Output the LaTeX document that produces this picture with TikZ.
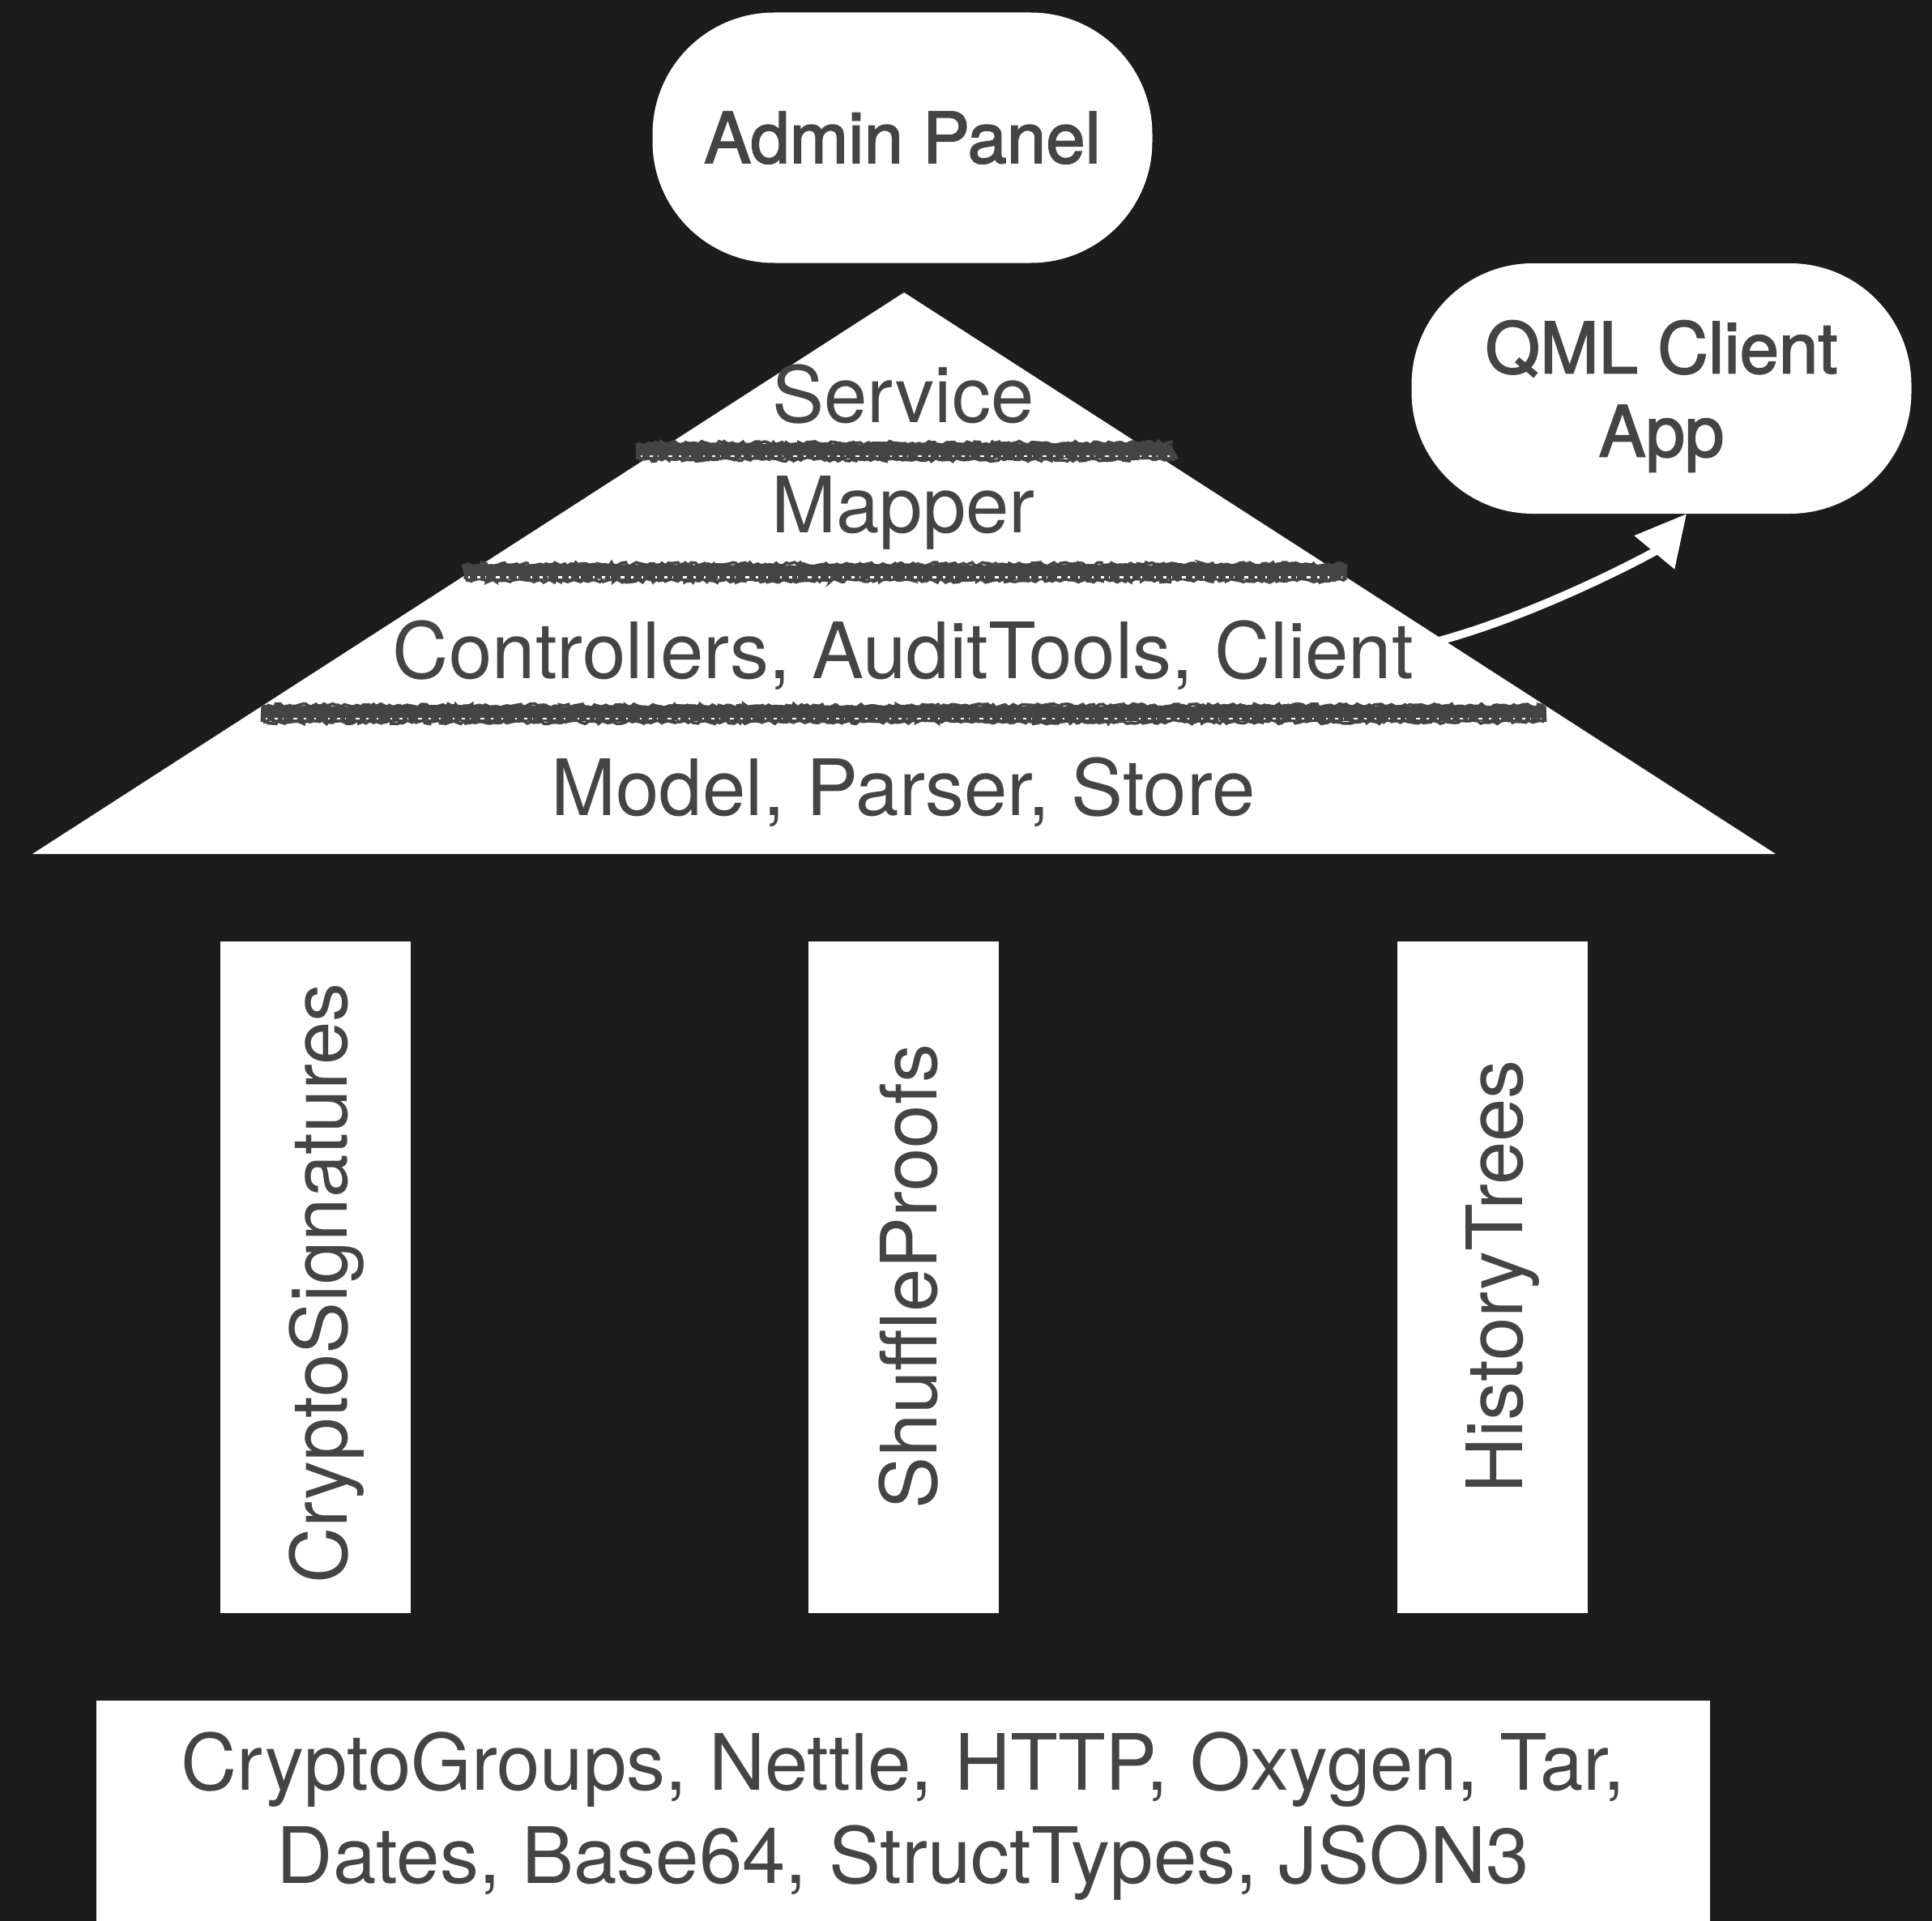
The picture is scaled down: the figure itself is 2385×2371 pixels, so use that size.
\documentclass[tikz,border=0pt]{standalone}
\usepackage{fontspec}
\setmainfont{TeX Gyre Heros}
\newfontfamily\medfont[FakeBold=2]{TeX Gyre Heros}
\usetikzlibrary{arrows.meta,decorations.pathmorphing}
\definecolor{bg}{HTML}{1C1C1C}
\definecolor{ink}{HTML}{444444}
\begin{document}
\begin{tikzpicture}[x=1pt,y=-1pt,
  bigtext/.style={text=ink, font=\fontsize{96}{115}\selectfont, inner sep=0pt},
  medtext/.style={text=ink, font=\medfont\fontsize{87}{103}\selectfont, inner sep=0pt},
  bubble/.style={fill=white, rounded corners=150pt, minimum width=617pt, minimum height=309pt, inner sep=0pt},
  pillarbox/.style={fill=white, minimum width=829pt, minimum height=235pt, inner sep=0pt, rotate=90},
  roughline/.style={draw=ink, line width=20pt, decorate, decoration={random steps, segment length=6pt, amplitude=2pt}},
  fuzz/.style={draw=ink, line width=3.5pt, decorate, decoration={random steps, segment length=4pt, amplitude=2.5pt}},
  speckA/.style={draw=white, line width=2.2pt, dash pattern=on 2pt off 9pt on 4pt off 6pt on 1pt off 12pt on 5pt off 8pt on 3pt off 10pt on 2pt off 15pt},
  flow/.style={draw=white, line width=10pt, -{Triangle[length=62pt,width=62pt]}}
]
\pgfmathsetseed{11}
\useasboundingbox[fill=bg] (0,0) rectangle (2385,2371);

% Admin panel
\node[bubble, medtext] (admin) at (1114,170) {Admin Panel};

% QML client app
\node[bubble] (qml) at (2051,479.5) {};
\node[medtext, align=center] (qmllabel) at (2051,489) {QML Client\\App};

% roof (triangle)
\fill[white] (1116,361) -- (2192,1054) -- (40,1054) -- cycle;

% layer separators
\foreach \xa/\xb/\yy in {785/1450/557, 572/1663/706.5, 322/1909/881}{
  \path[roughline] (\xa,\yy) -- (\xb,\yy);
  \path[fuzz] (\xa+3,\yy-10) -- (\xb-3,\yy-10);
  \path[fuzz] (\xa+3,\yy+10) -- (\xb-3,\yy+10);
  \path[speckA] (\xa+6,\yy+6) -- (\xb-6,\yy+6);
}

% layer labels
\node[bigtext, anchor=base] (service) at (1115,521) {Service};
\node[bigtext, anchor=base] (mapper) at (1115,657) {Mapper};
\node[bigtext, anchor=base] (ctrl) at (1115,837) {Controllers, AuditTools, Client};
\node[bigtext, anchor=base] (model) at (1115,1006) {Model, Parser, Store};

% pillars
\node[pillarbox] (p1) at (389.5,1576.5) {};
\node[pillarbox] (p2) at (1115,1576.5) {};
\node[pillarbox] (p3) at (1842,1576.5) {};
\node[bigtext, anchor=base, rotate=90] (t1) at (428,1584) {CryptoSignatures};
\node[bigtext, anchor=base, rotate=90] (t2) at (1156,1576) {ShuffleProofs};
\node[bigtext, anchor=base, rotate=90] (t3) at (1879,1576) {HistoryTrees};

% foundation
\node[fill=white, minimum width=1992pt, minimum height=272pt, inner sep=0pt] (base) at (1115,2235) {};
\node[bigtext, align=center] (basetext) at (1115,2241.5) {CryptoGroups, Nettle, HTTP, Oxygen, Tar,\\Dates, Base64, StructTypes, JSON3};

% arrow from Client layer to QML client app
\coordinate (arrfrom) at (1740,800);
\draw[flow] (arrfrom) .. controls (1880,770) and (2043,681) .. ([xshift=31pt]qml.south);
\end{tikzpicture}
\end{document}
